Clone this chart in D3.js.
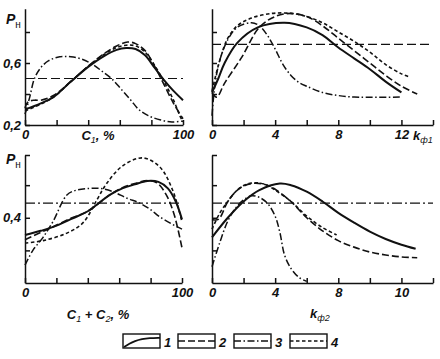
<!DOCTYPE html>
<html><head><meta charset="utf-8">
<script src="https://cdn.jsdelivr.net/npm/d3@7"></script>
<style>
html,body{margin:0;padding:0;background:#fff;}
text{font-family:"Liberation Sans",Arial,sans-serif;font-style:italic;font-weight:bold;fill:#111;}
</style></head>
<body><svg id="c" width="440" height="359"></svg>
<script>
// ---------- data ----------
const pctTicks = [0,20,40,60,80,100];
const pctLabels = {0:"0",100:"100"};
const kTicks = [0,2,4,6,8,10,12,14];
const kTopLabels = {0:"0",4:"4",8:"8",12:"12"};
const kBotLabels = {0:"0",4:"4",8:"8",12:"10"};
const topYTicks = [0.2,0.4,0.6,0.8];
const topYLabels = {0.2:"0,2",0.6:"0,6"};
const botYTicks = [0.2,0.4,0.6,0.785];
const botYLabels = {0.4:"0,4"};
const seriesNames = ["1","2","3","4"];

// panel 1: P vs C1, %
const p1s1 = [[0,0.30],[10,0.34],[18,0.38],[29,0.48],[40,0.575],[50,0.645],[58,0.685],[64,0.697],[70,0.69],[76,0.65],[82,0.57],[88,0.49],[94,0.42],[100,0.36]];
const p1s2 = [[0,0.31],[2,0.35],[6,0.36],[10,0.36],[18,0.39],[29,0.48],[40,0.58],[50,0.66],[58,0.71],[65,0.735],[70,0.725],[76,0.68],[82,0.58],[88,0.46],[94,0.34],[100,0.24]];
const p1s3 = [[0,0.27],[3,0.38],[6,0.5],[10,0.57],[15,0.615],[22,0.64],[29,0.64],[36,0.625],[43,0.59],[49,0.545],[55,0.497],[61,0.43],[67,0.36],[72,0.3],[78,0.26],[86,0.232],[93,0.22],[100,0.225]];
const p1s4 = [[0,0.29],[10,0.335],[18,0.38],[29,0.48],[40,0.578],[50,0.655],[58,0.70],[64,0.715],[70,0.71],[76,0.67],[82,0.585],[88,0.48],[94,0.36],[98,0.26],[100,0.22]];
const p1ref = 0.5;

// panel 2: P vs k_ф1
const p2s1 = [[0,0.41],[0.4,0.5],[0.8,0.6],[1.6,0.73],[2.9,0.83],[4.6,0.86],[6,0.83],[7,0.78],[8,0.7],[9,0.63],[10,0.56],[11,0.48],[12,0.41]];
const p2s2 = [[0,0.41],[0.3,0.38],[0.8,0.47],[1.9,0.64],[3,0.83],[4,0.9],[5,0.92],[6,0.9],[7,0.84],[8,0.76],[9,0.68],[10,0.6],[11,0.52],[12,0.45],[13,0.40]];
const p2s3 = [[0,0.26],[0.2,0.47],[0.5,0.62],[1,0.75],[1.6,0.83],[2.5,0.86],[3,0.84],[3.5,0.78],[4,0.69],[4.5,0.59],[5,0.52],[5.5,0.475],[6,0.45],[7,0.41],[8,0.39],[9,0.38],[12,0.38]];
const p2s4 = [[0,0.42],[0.5,0.62],[1,0.76],[1.6,0.84],[2.5,0.89],[3.8,0.92],[5,0.92],[6,0.9],[7,0.86],[8,0.8],[9,0.74],[10,0.67],[11,0.59],[12,0.53],[12.5,0.51]];
const p2ref = 0.72;

// panel 3: P vs C1+C2, %
const p3s1 = [[0,0.294],[10,0.32],[18,0.344],[30,0.395],[40,0.44],[54,0.54],[62,0.58],[70,0.605],[78,0.626],[85,0.62],[91,0.58],[96,0.5],[100,0.39]];
const p3s2 = [[0,0.265],[10,0.31],[18,0.345],[30,0.4],[40,0.44],[54,0.54],[62,0.585],[70,0.61],[78,0.628],[84,0.615],[90,0.54],[95,0.42],[100,0.215]];
const p3s3 = [[0,0.11],[5,0.2],[11.5,0.28],[18,0.38],[26.7,0.54],[33,0.57],[41,0.58],[48,0.58],[56,0.56],[65,0.52],[73,0.49],[80,0.45],[86,0.405],[97,0.344],[100,0.33]];
const p3s4 = [[0,0.245],[11.5,0.26],[26.7,0.306],[37,0.37],[45.8,0.51],[52,0.61],[62.4,0.72],[75,0.767],[86,0.71],[94,0.57],[100,0.375]];
const p3ref = 0.49;

// panel 4: P vs k_ф2
const p4s1 = [[0,0.28],[1,0.4],[2,0.5],[3,0.57],[4.3,0.61],[5,0.6],[6,0.56],[7,0.5],[8,0.43],[9,0.37],[10,0.315],[11,0.27],[12,0.235],[12.9,0.21]];
const p4s2 = [[0,0.39],[0.4,0.39],[1,0.5],[1.5,0.56],[2,0.595],[2.7,0.612],[3.5,0.6],[4,0.575],[5,0.5],[6,0.4],[7,0.32],[8,0.26],[9,0.22],[10,0.19],[11,0.172],[12,0.16],[13,0.155]];
const p4s3 = [[0,0.1],[0.5,0.25],[1,0.38],[1.5,0.46],[2,0.51],[2.5,0.535],[3,0.525],[3.5,0.49],[4,0.41],[4.3,0.31],[4.6,0.17],[5,0.09],[5.5,0.035],[6,0.01]];
const p4s4 = [[0,0.33],[0.5,0.43],[1,0.5],[1.5,0.56],[2,0.598],[2.7,0.615],[3.5,0.6],[4,0.57],[5,0.5],[6,0.41],[7,0.34],[7.9,0.295]];
const p4ref = 0.49;

// ---------- drawing ----------
const svg = d3.select("#c");
const ink = "#111";
const styles = [
  {w:2.0, dash:null},
  {w:1.6, dash:"7,3"},
  {w:1.5, dash:"7,2.5,1.5,2.5"},
  {w:1.6, dash:"3.5,2.5"}
];

function panel(cfg){
  const x = d3.scaleLinear().domain(cfg.xd).range(cfg.xr);
  const y = d3.scaleLinear().domain(cfg.yd).range(cfg.yr);
  const g = svg.append("g");
  g.append("line").attr("x1",x.range()[0]).attr("x2",x.range()[1])
    .attr("y1",y(cfg.ref)).attr("y2",y(cfg.ref))
    .attr("stroke",ink).attr("stroke-width",1.1).attr("stroke-dasharray",cfg.refDash);
  const ax = g.append("g").attr("transform",`translate(0,${cfg.yr[0]})`)
    .call(d3.axisBottom(x).tickValues(cfg.xt).tickSize(-5).tickSizeOuter(0).tickPadding(5)
      .tickFormat(d=>cfg.xl[d]||""));
  const ay = g.append("g").attr("transform",`translate(${cfg.xr[0]},0)`)
    .call(d3.axisLeft(y).tickValues(cfg.yt).tickSize(-5).tickSizeOuter(0).tickPadding(4)
      .tickFormat(d=>cfg.yl[d]||""));
  [ax,ay].forEach(a=>{
    a.attr("font-family",null).attr("font-size",null);
    a.selectAll("path,line").attr("stroke",ink).attr("stroke-width",1.5);
    a.selectAll("text").attr("font-size",13).attr("fill",ink);
  });
  const line = d3.line().x(d=>x(d[0])).y(d=>y(d[1])).curve(d3.curveCatmullRom.alpha(0.5));
  cfg.series.forEach((s,i)=>{
    g.append("path").attr("d",line(s)).attr("fill","none").attr("stroke",ink)
      .attr("stroke-width",styles[i].w).attr("stroke-dasharray",styles[i].dash)
      .attr("stroke-linejoin","round");
  });
  return {x,y,g};
}

const topY = [0.2,0.95], topYR = [125,8.75];
const botY = [0,0.785], botYR = [283,155];

panel({xd:[0,100],xr:[25,183],yd:topY,yr:topYR,xt:pctTicks,xl:pctLabels,yt:topYTicks,yl:topYLabels,
  series:[p1s1,p1s2,p1s3,p1s4],ref:p1ref,refDash:"9,4"});
panel({xd:[0,14],xr:[212,433],yd:topY,yr:topYR,xt:kTicks,xl:kTopLabels,yt:topYTicks,yl:{},
  series:[p2s1,p2s2,p2s3,p2s4],ref:p2ref,refDash:"9,4"});
panel({xd:[0,100],xr:[25,182],yd:botY,yr:botYR,xt:pctTicks,xl:pctLabels,yt:botYTicks,yl:botYLabels,
  series:[p3s1,p3s2,p3s3,p3s4],ref:p3ref,refDash:"10,3,2,3"});
panel({xd:[0,14],xr:[212,433],yd:botY,yr:botYR,xt:kTicks,xl:kBotLabels,yt:botYTicks,yl:{},
  series:[p4s1,p4s2,p4s3,p4s4],ref:p4ref,refDash:"10,3,2,3"});

function pLabel(x,y){
  const t = svg.append("text").attr("x",x).attr("y",y).attr("font-size",14);
  t.append("tspan").text("P");
  t.append("tspan").attr("font-size",10).attr("dy",4).attr("font-style","normal").attr("font-weight","normal").text("н");
}
pLabel(6,24);
pLabel(6,164);

function subLabel(x,y,parts,anchor){
  const t = svg.append("text").attr("x",x).attr("y",y).attr("font-size",13).attr("text-anchor",anchor||"middle");
  parts.forEach(p=>{
    const ts = t.append("tspan").text(p.t);
    if(p.sub){ ts.attr("font-size",9).attr("dy",3).attr("font-weight","normal"); }
    else if(p.back){ ts.attr("dy",-3); }
  });
}
subLabel(98,140,[{t:"C"},{t:"1",sub:1},{t:", %",back:1}]);
subLabel(413,140,[{t:"k"},{t:"ф1",sub:1}],"start");
subLabel(98,319,[{t:"C"},{t:"1",sub:1},{t:" + C",back:1},{t:"2",sub:1},{t:", %",back:1}]);
subLabel(320,318,[{t:"k"},{t:"ф2",sub:1}]);

// legend
const legX = [123,178,234,290], legY = 334, legW = 37, legH = 14;
const legendGlyph = [[0,0],[0.15,0.35],[0.3,0.6],[0.5,0.8],[0.7,0.9],[1,0.92]];
seriesNames.forEach((n,i)=>{
  const g = svg.append("g");
  g.append("rect").attr("x",legX[i]).attr("y",legY).attr("width",legW).attr("height",legH)
    .attr("fill","none").attr("stroke",ink).attr("stroke-width",1.4);
  if(i===0){
    const lx = d3.scaleLinear().domain([0,1]).range([legX[i]+1,legX[i]+legW]);
    const ly = d3.scaleLinear().domain([0,1]).range([legY+legH-1,legY+3]);
    g.append("path").attr("d",d3.line().x(d=>lx(d[0])).y(d=>ly(d[1])).curve(d3.curveBasis)(legendGlyph))
      .attr("fill","none").attr("stroke",ink).attr("stroke-width",1.8);
  } else {
    g.append("line").attr("x1",legX[i]).attr("x2",legX[i]+legW).attr("y1",legY+legH/2).attr("y2",legY+legH/2)
      .attr("stroke",ink).attr("stroke-width",1.5).attr("stroke-dasharray",styles[i].dash);
  }
  g.append("text").attr("x",legX[i]+legW+4).attr("y",legY+legH-1).attr("font-size",13).text(n);
});
</script></body></html>
